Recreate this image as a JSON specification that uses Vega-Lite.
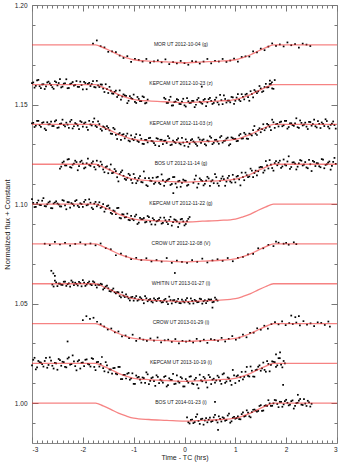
{
"$schema":"https://vega.github.io/schema/vega-lite/v6.json",
"width":305,"height":438,
"autosize":{"type":"none"},
"padding":{"left":32,"top":5,"right":4,"bottom":23},
"config":{"view":{"stroke":"#888","strokeWidth":1},"font":"Liberation Sans"},
"datasets":{
"pts":[
{"t":-1.8,"f":1.1806},{"t":-1.725,"f":1.1822},{"t":-1.65,"f":1.1793},{"t":-1.575,"f":1.1787},{"t":-1.5,"f":1.1765},{"t":-1.425,"f":1.1767},{"t":-1.35,"f":1.1763},{"t":-1.275,"f":1.1746},{"t":-1.2,"f":1.1734},{"t":-1.125,"f":1.1743},{"t":-1.05,"f":1.1714},{"t":-0.975,"f":1.1729},{"t":-0.9,"f":1.1724},{"t":-0.825,"f":1.1716},{"t":-0.75,"f":1.1729},{"t":-0.675,"f":1.171},{"t":-0.6,"f":1.1717},{"t":-0.525,"f":1.1722},{"t":-0.45,"f":1.1712},{"t":-0.375,"f":1.1727},{"t":-0.3,"f":1.1703},{"t":-0.225,"f":1.1713},{"t":-0.15,"f":1.1707},{"t":-0.075,"f":1.1719},{"t":0,"f":1.1708},{"t":0.075,"f":1.17},{"t":0.15,"f":1.1718},{"t":0.225,"f":1.1716},{"t":0.3,"f":1.1706},{"t":0.375,"f":1.1716},{"t":0.45,"f":1.1729},{"t":0.525,"f":1.1707},{"t":0.6,"f":1.172},{"t":0.675,"f":1.1716},{"t":0.75,"f":1.1729},{"t":0.825,"f":1.1714},{"t":0.9,"f":1.1721},{"t":0.975,"f":1.1731},{"t":1.05,"f":1.1716},{"t":1.125,"f":1.1739},{"t":1.2,"f":1.1742},{"t":1.275,"f":1.1741},{"t":1.35,"f":1.1767},{"t":1.425,"f":1.1762},{"t":1.5,"f":1.1781},{"t":1.575,"f":1.1773},{"t":1.65,"f":1.1791},{"t":1.725,"f":1.1807},{"t":1.8,"f":1.1795},{"t":1.875,"f":1.1802},{"t":1.95,"f":1.1792},{"t":2.025,"f":1.1812},{"t":2.1,"f":1.1798},{"t":2.175,"f":1.1804},{"t":2.25,"f":1.1786},{"t":2.325,"f":1.1806},{"t":2.4,"f":1.1801},{"t":2.475,"f":1.1794},
{"t":-3,"f":1.1608},{"t":-2.95,"f":1.1585},{"t":-2.9,"f":1.1621},{"t":-2.85,"f":1.1592},{"t":-2.8,"f":1.1601},{"t":-2.75,"f":1.1578},{"t":-2.7,"f":1.1611},{"t":-2.65,"f":1.1606},{"t":-2.6,"f":1.1587},{"t":-2.55,"f":1.1617},{"t":-2.5,"f":1.1596},{"t":-2.45,"f":1.1628},{"t":-2.4,"f":1.159},{"t":-2.35,"f":1.1607},{"t":-2.3,"f":1.1582},{"t":-2.25,"f":1.1603},{"t":-2.2,"f":1.1613},{"t":-2.15,"f":1.1599},{"t":-2.1,"f":1.1589},{"t":-2.05,"f":1.1615},{"t":-2,"f":1.1576},{"t":-1.95,"f":1.1608},{"t":-1.9,"f":1.1604},{"t":-1.85,"f":1.1593},{"t":-1.8,"f":1.1618},{"t":-1.75,"f":1.1586},{"t":-1.7,"f":1.1596},{"t":-1.65,"f":1.1601},{"t":-1.6,"f":1.158},{"t":-1.55,"f":1.1602},{"t":-1.5,"f":1.1558},{"t":-1.45,"f":1.157},{"t":-1.4,"f":1.1554},{"t":-1.35,"f":1.157},{"t":-1.3,"f":1.1547},{"t":-1.25,"f":1.1525},{"t":-1.2,"f":1.1551},{"t":-1.15,"f":1.1543},{"t":-1.1,"f":1.1519},{"t":-1.05,"f":1.1532},{"t":-1,"f":1.155},{"t":-0.95,"f":1.1508},{"t":-0.9,"f":1.1528},{"t":-0.85,"f":1.1517},{"t":-0.8,"f":1.1537},{"t":-0.75,"f":1.1509},{"t":-0.4,"f":1.1534},{"t":-0.35,"f":1.1508},{"t":-0.3,"f":1.1523},{"t":-0.25,"f":1.1495},{"t":-0.2,"f":1.1512},{"t":-0.15,"f":1.1527},{"t":-0.1,"f":1.1503},{"t":-0.05,"f":1.1515},{"t":0,"f":1.1496},{"t":0.05,"f":1.1532},{"t":0.1,"f":1.1508},{"t":0.15,"f":1.1519},{"t":0.2,"f":1.1487},{"t":0.25,"f":1.1524},{"t":0.3,"f":1.1514},{"t":0.35,"f":1.1504},{"t":0.4,"f":1.1528},{"t":0.45,"f":1.1511},{"t":0.5,"f":1.1533},{"t":0.55,"f":1.1503},{"t":0.6,"f":1.1523},{"t":0.65,"f":1.1511},{"t":0.7,"f":1.1549},{"t":0.75,"f":1.1502},{"t":0.8,"f":1.1528},{"t":0.85,"f":1.152},{"t":0.9,"f":1.1511},{"t":0.95,"f":1.1536},{"t":1,"f":1.1519},{"t":1.05,"f":1.1552},{"t":1.1,"f":1.1517},{"t":1.15,"f":1.1539},{"t":1.2,"f":1.155},{"t":1.25,"f":1.1537},{"t":1.3,"f":1.1567},{"t":1.35,"f":1.1536},{"t":1.4,"f":1.1566},{"t":1.45,"f":1.1566},{"t":1.5,"f":1.1581},{"t":1.55,"f":1.1567},{"t":1.6,"f":1.1604},{"t":1.65,"f":1.1587},{"t":1.7,"f":1.1604},{"t":1.75,"f":1.1579},{"t":1.72,"f":1.1612},{"t":1.68,"f":1.162},{"t":0.34,"f":1.159},
{"t":-2.975,"f":1.1611},{"t":-2.925,"f":1.1594},{"t":-2.875,"f":1.1624},{"t":-2.825,"f":1.1582},{"t":-2.775,"f":1.1602},{"t":-2.725,"f":1.1591},{"t":-2.675,"f":1.1615},{"t":-2.625,"f":1.1597},{"t":-2.575,"f":1.1579},{"t":-2.525,"f":1.1612},{"t":-2.475,"f":1.1608},{"t":-2.425,"f":1.1586},{"t":-2.375,"f":1.1605},{"t":-2.325,"f":1.1627},{"t":-2.275,"f":1.1583},{"t":-2.225,"f":1.1606},{"t":-2.175,"f":1.1595},{"t":-2.125,"f":1.1618},{"t":-2.075,"f":1.1589},{"t":-2.025,"f":1.1598},{"t":-1.975,"f":1.1614},{"t":-1.925,"f":1.1577},{"t":-1.875,"f":1.1609},{"t":-1.825,"f":1.1603},{"t":-1.775,"f":1.1588},{"t":-1.725,"f":1.1619},{"t":-1.675,"f":1.1588},{"t":-1.625,"f":1.16},{"t":-1.575,"f":1.1563},{"t":-1.525,"f":1.1578},{"t":-1.475,"f":1.1589},{"t":-1.425,"f":1.1556},{"t":-1.375,"f":1.1564},{"t":-1.325,"f":1.1538},{"t":-1.275,"f":1.1571},{"t":-1.225,"f":1.154},{"t":-1.175,"f":1.1546},{"t":-1.125,"f":1.1507},{"t":-1.075,"f":1.1542},{"t":-1.025,"f":1.1529},{"t":-0.975,"f":1.1513},{"t":-0.925,"f":1.1538},{"t":-0.875,"f":1.1517},{"t":-0.825,"f":1.1541},{"t":-0.775,"f":1.1506},{"t":-0.725,"f":1.1525},{"t":-0.375,"f":1.1528},{"t":-0.325,"f":1.1508},{"t":-0.275,"f":1.1539},{"t":-0.225,"f":1.1496},{"t":-0.175,"f":1.1515},{"t":-0.125,"f":1.1523},{"t":-0.075,"f":1.1502},{"t":-0.025,"f":1.1529},{"t":0.025,"f":1.149},{"t":0.075,"f":1.1516},{"t":0.125,"f":1.1509},{"t":0.175,"f":1.1518},{"t":0.225,"f":1.1499},{"t":0.275,"f":1.1533},{"t":0.325,"f":1.1509},{"t":0.375,"f":1.1523},{"t":0.425,"f":1.1492},{"t":0.475,"f":1.1527},{"t":0.525,"f":1.1518},{"t":0.575,"f":1.1508},{"t":0.625,"f":1.1535},{"t":0.675,"f":1.15},{"t":0.725,"f":1.1522},{"t":0.775,"f":1.1546},{"t":0.825,"f":1.151},{"t":0.875,"f":1.152},{"t":0.925,"f":1.1538},{"t":0.975,"f":1.1503},{"t":1.025,"f":1.1535},{"t":1.075,"f":1.1524},{"t":1.125,"f":1.1552},{"t":1.175,"f":1.1526},{"t":1.225,"f":1.1554},{"t":1.275,"f":1.1519},{"t":1.325,"f":1.1553},{"t":1.375,"f":1.1573},{"t":1.425,"f":1.1557},{"t":1.475,"f":1.1593},{"t":1.525,"f":1.1563},{"t":1.575,"f":1.1588},{"t":1.625,"f":1.1586},{"t":1.675,"f":1.1603},{"t":1.725,"f":1.1581},{"t":1.775,"f":1.1623},
{"t":-3,"f":1.1406},{"t":-2.95,"f":1.1387},{"t":-2.9,"f":1.1418},{"t":-2.85,"f":1.1396},{"t":-2.8,"f":1.1408},{"t":-2.75,"f":1.1379},{"t":-2.7,"f":1.1411},{"t":-2.65,"f":1.1401},{"t":-2.6,"f":1.1392},{"t":-2.55,"f":1.1415},{"t":-2.5,"f":1.1383},{"t":-2.45,"f":1.1403},{"t":-2.4,"f":1.1424},{"t":-2.35,"f":1.139},{"t":-2.3,"f":1.1399},{"t":-2.25,"f":1.1414},{"t":-2.2,"f":1.138},{"t":-2.15,"f":1.1407},{"t":-2.1,"f":1.1394},{"t":-2.05,"f":1.1417},{"t":-2,"f":1.1389},{"t":-1.95,"f":1.141},{"t":-1.9,"f":1.1373},{"t":-1.85,"f":1.14},{"t":-1.8,"f":1.1413},{"t":-1.75,"f":1.1393},{"t":-1.7,"f":1.1416},{"t":-1.65,"f":1.1377},{"t":-1.6,"f":1.139},{"t":-1.55,"f":1.1377},{"t":-1.5,"f":1.1383},{"t":-1.45,"f":1.1354},{"t":-1.4,"f":1.1383},{"t":-1.35,"f":1.1348},{"t":-1.3,"f":1.1351},{"t":-1.25,"f":1.1323},{"t":-1.2,"f":1.1351},{"t":-1.15,"f":1.1342},{"t":-1.1,"f":1.1319},{"t":-1.05,"f":1.1345},{"t":-1,"f":1.1321},{"t":-0.95,"f":1.1351},{"t":-0.9,"f":1.1312},{"t":-0.85,"f":1.1328},{"t":-0.8,"f":1.1302},{"t":-0.75,"f":1.1322},{"t":-0.7,"f":1.1331},{"t":-0.65,"f":1.1317},{"t":-0.6,"f":1.1306},{"t":-0.55,"f":1.1331},{"t":-0.5,"f":1.1291},{"t":-0.45,"f":1.1323},{"t":-0.4,"f":1.1318},{"t":-0.35,"f":1.1307},{"t":-0.3,"f":1.1331},{"t":-0.25,"f":1.1299},{"t":-0.2,"f":1.1312},{"t":-0.15,"f":1.1322},{"t":-0.1,"f":1.1305},{"t":-0.05,"f":1.1333},{"t":0,"f":1.1293},{"t":0.05,"f":1.1312},{"t":0.1,"f":1.1303},{"t":0.15,"f":1.1326},{"t":0.2,"f":1.1309},{"t":0.25,"f":1.1293},{"t":0.3,"f":1.1324},{"t":0.35,"f":1.1321},{"t":0.4,"f":1.1301},{"t":0.45,"f":1.1319},{"t":0.5,"f":1.134},{"t":0.55,"f":1.1301},{"t":0.6,"f":1.1323},{"t":0.65,"f":1.1314},{"t":0.7,"f":1.1335},{"t":0.75,"f":1.1309},{"t":0.8,"f":1.1319},{"t":0.85,"f":1.1334},{"t":0.9,"f":1.1301},{"t":0.95,"f":1.1331},{"t":1,"f":1.1328},{"t":1.05,"f":1.1317},{"t":1.1,"f":1.1352},{"t":1.15,"f":1.133},{"t":1.2,"f":1.135},{"t":1.25,"f":1.1327},{"t":1.3,"f":1.135},{"t":1.35,"f":1.1371},{"t":1.4,"f":1.1354},{"t":1.45,"f":1.1373},{"t":1.5,"f":1.1361},{"t":1.55,"f":1.1401},{"t":1.6,"f":1.1383},{"t":1.65,"f":1.1398},{"t":1.7,"f":1.1371},{"t":1.75,"f":1.1411},{"t":1.8,"f":1.1401},{"t":1.85,"f":1.139},{"t":1.9,"f":1.1414},{"t":1.95,"f":1.1396},{"t":2,"f":1.1418},{"t":2.05,"f":1.1387},{"t":2.1,"f":1.1406},{"t":2.15,"f":1.1393},{"t":2.2,"f":1.1431},{"t":2.25,"f":1.1383},{"t":2.3,"f":1.1408},{"t":2.35,"f":1.1399},{"t":2.4,"f":1.1389},{"t":2.45,"f":1.1413},{"t":2.5,"f":1.1394},{"t":2.55,"f":1.1424},{"t":2.6,"f":1.1385},{"t":2.65,"f":1.1403},{"t":2.7,"f":1.141},{"t":2.75,"f":1.1392},{"t":2.8,"f":1.1417},{"t":2.85,"f":1.138},{"t":2.9,"f":1.1404},{"t":2.95,"f":1.1397},
{"t":-2.975,"f":1.1408},{"t":-2.925,"f":1.1394},{"t":-2.875,"f":1.1418},{"t":-2.825,"f":1.1388},{"t":-2.775,"f":1.1411},{"t":-2.725,"f":1.1371},{"t":-2.675,"f":1.14},{"t":-2.625,"f":1.1414},{"t":-2.575,"f":1.1392},{"t":-2.525,"f":1.1421},{"t":-2.475,"f":1.1385},{"t":-2.425,"f":1.1405},{"t":-2.375,"f":1.1397},{"t":-2.325,"f":1.1409},{"t":-2.275,"f":1.1383},{"t":-2.225,"f":1.1423},{"t":-2.175,"f":1.1391},{"t":-2.125,"f":1.1402},{"t":-2.075,"f":1.1376},{"t":-2.025,"f":1.1412},{"t":-1.975,"f":1.1406},{"t":-1.925,"f":1.1386},{"t":-1.875,"f":1.1418},{"t":-1.825,"f":1.1395},{"t":-1.775,"f":1.143},{"t":-1.725,"f":1.1387},{"t":-1.675,"f":1.1402},{"t":-1.625,"f":1.1369},{"t":-1.575,"f":1.1386},{"t":-1.525,"f":1.1392},{"t":-1.475,"f":1.137},{"t":-1.425,"f":1.1353},{"t":-1.375,"f":1.1376},{"t":-1.325,"f":1.1327},{"t":-1.275,"f":1.1357},{"t":-1.225,"f":1.1348},{"t":-1.175,"f":1.133},{"t":-1.125,"f":1.1354},{"t":-1.075,"f":1.1315},{"t":-1.025,"f":1.1327},{"t":-0.975,"f":1.1335},{"t":-0.925,"f":1.1317},{"t":-0.875,"f":1.1346},{"t":-0.825,"f":1.1303},{"t":-0.775,"f":1.1322},{"t":-0.725,"f":1.131},{"t":-0.675,"f":1.1333},{"t":-0.625,"f":1.1315},{"t":-0.575,"f":1.1296},{"t":-0.525,"f":1.1328},{"t":-0.475,"f":1.1323},{"t":-0.425,"f":1.1301},{"t":-0.375,"f":1.1319},{"t":-0.325,"f":1.1341},{"t":-0.275,"f":1.1296},{"t":-0.225,"f":1.1319},{"t":-0.175,"f":1.1307},{"t":-0.125,"f":1.133},{"t":-0.075,"f":1.13},{"t":-0.025,"f":1.1309},{"t":0.025,"f":1.1325},{"t":0.075,"f":1.1288},{"t":0.125,"f":1.1321},{"t":0.175,"f":1.1315},{"t":0.225,"f":1.1301},{"t":0.275,"f":1.1334},{"t":0.325,"f":1.1308},{"t":0.375,"f":1.1325},{"t":0.425,"f":1.1295},{"t":0.475,"f":1.1315},{"t":0.525,"f":1.1333},{"t":0.575,"f":1.1308},{"t":0.625,"f":1.1323},{"t":0.675,"f":1.1303},{"t":0.725,"f":1.1342},{"t":0.775,"f":1.1317},{"t":0.825,"f":1.1329},{"t":0.875,"f":1.1295},{"t":0.925,"f":1.1335},{"t":0.975,"f":1.1326},{"t":1.025,"f":1.1316},{"t":1.075,"f":1.1345},{"t":1.125,"f":1.1329},{"t":1.175,"f":1.1358},{"t":1.225,"f":1.1329},{"t":1.275,"f":1.1354},{"t":1.325,"f":1.1345},{"t":1.375,"f":1.1392},{"t":1.425,"f":1.1347},{"t":1.475,"f":1.1381},{"t":1.525,"f":1.1376},{"t":1.575,"f":1.1371},{"t":1.625,"f":1.1403},{"t":1.675,"f":1.1388},{"t":1.725,"f":1.1424},{"t":1.775,"f":1.1383},{"t":1.825,"f":1.1403},{"t":1.875,"f":1.1411},{"t":1.925,"f":1.1391},{"t":1.975,"f":1.1418},{"t":2.025,"f":1.1379},{"t":2.075,"f":1.1405},{"t":2.125,"f":1.1397},{"t":2.175,"f":1.1406},{"t":2.225,"f":1.1386},{"t":2.275,"f":1.142},{"t":2.325,"f":1.1395},{"t":2.375,"f":1.1409},{"t":2.425,"f":1.1377},{"t":2.475,"f":1.1412},{"t":2.525,"f":1.1402},{"t":2.575,"f":1.1391},{"t":2.625,"f":1.1417},{"t":2.675,"f":1.1382},{"t":2.725,"f":1.1403},{"t":2.775,"f":1.1426},{"t":2.825,"f":1.1389},{"t":2.875,"f":1.1398},{"t":2.925,"f":1.1415},{"t":2.975,"f":1.1379},
{"t":-2.45,"f":1.1178},{"t":-2.4,"f":1.1208},{"t":-2.35,"f":1.1194},{"t":-2.3,"f":1.1224},{"t":-2.25,"f":1.1186},{"t":-2.2,"f":1.1198},{"t":-2.15,"f":1.1218},{"t":-2.1,"f":1.117},{"t":-2.05,"f":1.1212},{"t":-2,"f":1.1204},{"t":-1.95,"f":1.1184},{"t":-1.9,"f":1.1228},{"t":-1.85,"f":1.1192},{"t":-1.8,"f":1.1214},{"t":-1.75,"f":1.1174},{"t":-1.7,"f":1.1196},{"t":-1.65,"f":1.1213},{"t":-1.6,"f":1.1174},{"t":-1.55,"f":1.1186},{"t":-1.5,"f":1.1155},{"t":-1.45,"f":1.1199},{"t":-1.4,"f":1.1158},{"t":-1.35,"f":1.1166},{"t":-1.3,"f":1.1114},{"t":-1.25,"f":1.1161},{"t":-1.2,"f":1.1142},{"t":-1.15,"f":1.1122},{"t":-1.1,"f":1.1152},{"t":-1.05,"f":1.1122},{"t":-1,"f":1.1151},{"t":-0.95,"f":1.1105},{"t":-0.9,"f":1.113},{"t":-0.85,"f":1.1111},{"t":-0.8,"f":1.1164},{"t":-0.75,"f":1.1095},{"t":-0.7,"f":1.113},{"t":-0.65,"f":1.1116},{"t":-0.6,"f":1.1101},{"t":-0.55,"f":1.1134},{"t":-0.5,"f":1.1107},{"t":-0.45,"f":1.1149},{"t":-0.4,"f":1.1092},{"t":-0.35,"f":1.1118},{"t":-0.3,"f":1.1127},{"t":-0.25,"f":1.1101},{"t":-0.2,"f":1.1136},{"t":-0.15,"f":1.1084},{"t":-0.1,"f":1.1117},{"t":-0.05,"f":1.1107},{"t":0,"f":1.1118},{"t":0.05,"f":1.1093},{"t":0.2,"f":1.1124},{"t":0.25,"f":1.1083},{"t":0.3,"f":1.1129},{"t":0.35,"f":1.1116},{"t":0.4,"f":1.1102},{"t":0.45,"f":1.1137},{"t":0.5,"f":1.1091},{"t":0.55,"f":1.112},{"t":0.6,"f":1.1151},{"t":0.65,"f":1.1104},{"t":0.7,"f":1.1116},{"t":0.75,"f":1.1139},{"t":0.8,"f":1.1092},{"t":0.85,"f":1.1131},{"t":0.9,"f":1.1114},{"t":0.95,"f":1.1147},{"t":1,"f":1.1109},{"t":1.05,"f":1.1142},{"t":1.1,"f":1.1094},{"t":1.15,"f":1.1136},{"t":1.2,"f":1.1158},{"t":1.25,"f":1.1135},{"t":1.3,"f":1.1178},{"t":1.35,"f":1.1136},{"t":1.4,"f":1.1168},{"t":1.45,"f":1.1165},{"t":1.5,"f":1.1187},{"t":1.55,"f":1.1158},{"t":1.6,"f":1.1216},{"t":1.65,"f":1.1179},{"t":1.7,"f":1.1198},{"t":1.75,"f":1.1168},{"t":1.8,"f":1.1216},{"t":1.85,"f":1.1208},{"t":1.9,"f":1.1182},{"t":1.95,"f":1.1224},{"t":2,"f":1.1194},{"t":2.05,"f":1.124},{"t":2.1,"f":1.1186},{"t":2.15,"f":1.121},{"t":2.2,"f":1.1174},{"t":2.25,"f":1.1204},{"t":2.3,"f":1.1218},{"t":2.35,"f":1.1198},{"t":2.4,"f":1.1184},{"t":2.45,"f":1.1222},{"t":2.5,"f":1.1166},{"t":2.55,"f":1.1212},{"t":2.6,"f":1.1206},{"t":2.65,"f":1.119},{"t":2.7,"f":1.1226},{"t":2.75,"f":1.118},{"t":2.8,"f":1.12},{"t":2.85,"f":1.1214},{"t":2.9,"f":1.1192},{"t":2.95,"f":1.1232},
{"t":-2.425,"f":1.1188},{"t":-2.375,"f":1.1214},{"t":-2.325,"f":1.1194},{"t":-2.275,"f":1.1226},{"t":-2.225,"f":1.1183},{"t":-2.175,"f":1.1203},{"t":-2.125,"f":1.1211},{"t":-2.075,"f":1.1191},{"t":-2.025,"f":1.1218},{"t":-1.975,"f":1.1179},{"t":-1.925,"f":1.1205},{"t":-1.875,"f":1.1197},{"t":-1.825,"f":1.1206},{"t":-1.775,"f":1.1186},{"t":-1.725,"f":1.1218},{"t":-1.675,"f":1.1189},{"t":-1.625,"f":1.1198},{"t":-1.575,"f":1.116},{"t":-1.525,"f":1.119},{"t":-1.475,"f":1.1174},{"t":-1.425,"f":1.1156},{"t":-1.375,"f":1.1176},{"t":-1.325,"f":1.1135},{"t":-1.275,"f":1.1151},{"t":-1.225,"f":1.1169},{"t":-1.175,"f":1.1127},{"t":-1.125,"f":1.1132},{"t":-1.075,"f":1.1145},{"t":-1.025,"f":1.1106},{"t":-0.975,"f":1.1132},{"t":-0.925,"f":1.1117},{"t":-0.875,"f":1.114},{"t":-0.825,"f":1.1109},{"t":-0.775,"f":1.1131},{"t":-0.725,"f":1.109},{"t":-0.675,"f":1.1118},{"t":-0.625,"f":1.1132},{"t":-0.575,"f":1.1109},{"t":-0.525,"f":1.1137},{"t":-0.475,"f":1.11},{"t":-0.425,"f":1.112},{"t":-0.375,"f":1.1111},{"t":-0.325,"f":1.1123},{"t":-0.275,"f":1.1096},{"t":-0.225,"f":1.1136},{"t":-0.175,"f":1.1103},{"t":-0.125,"f":1.1114},{"t":-0.075,"f":1.1087},{"t":-0.025,"f":1.1123},{"t":0.025,"f":1.1117},{"t":0.075,"f":1.1097},{"t":0.175,"f":1.1107},{"t":0.225,"f":1.1143},{"t":0.275,"f":1.1102},{"t":0.325,"f":1.1122},{"t":0.375,"f":1.1094},{"t":0.425,"f":1.1118},{"t":0.475,"f":1.1129},{"t":0.525,"f":1.1114},{"t":0.575,"f":1.1105},{"t":0.625,"f":1.1135},{"t":0.675,"f":1.1092},{"t":0.725,"f":1.1128},{"t":0.775,"f":1.1125},{"t":0.825,"f":1.1113},{"t":0.875,"f":1.1142},{"t":0.925,"f":1.1108},{"t":0.975,"f":1.1124},{"t":1.025,"f":1.1138},{"t":1.075,"f":1.1124},{"t":1.125,"f":1.1158},{"t":1.175,"f":1.112},{"t":1.225,"f":1.1145},{"t":1.275,"f":1.1139},{"t":1.325,"f":1.1168},{"t":1.375,"f":1.1156},{"t":1.425,"f":1.1144},{"t":1.475,"f":1.1184},{"t":1.525,"f":1.1186},{"t":1.575,"f":1.1169},{"t":1.625,"f":1.1194},{"t":1.675,"f":1.1221},{"t":1.725,"f":1.1181},{"t":1.775,"f":1.1206},{"t":1.825,"f":1.1195},{"t":1.875,"f":1.1218},{"t":1.925,"f":1.1189},{"t":1.975,"f":1.1198},{"t":2.025,"f":1.1214},{"t":2.075,"f":1.1177},{"t":2.125,"f":1.1209},{"t":2.175,"f":1.1203},{"t":2.225,"f":1.1188},{"t":2.275,"f":1.1221},{"t":2.325,"f":1.1194},{"t":2.375,"f":1.1211},{"t":2.425,"f":1.118},{"t":2.475,"f":1.12},{"t":2.525,"f":1.1217},{"t":2.575,"f":1.1191},{"t":2.625,"f":1.1205},{"t":2.675,"f":1.1185},{"t":2.725,"f":1.1223},{"t":2.775,"f":1.1197},{"t":2.825,"f":1.1208},{"t":2.875,"f":1.1173},{"t":2.925,"f":1.1212},{"t":2.975,"f":1.1202},
{"t":-3,"f":1.1025},{"t":-2.95,"f":1.0985},{"t":-2.9,"f":1.1006},{"t":-2.85,"f":1.0996},{"t":-2.8,"f":1.1017},{"t":-2.75,"f":1.099},{"t":-2.7,"f":1.0999},{"t":-2.65,"f":1.1013},{"t":-2.6,"f":1.0979},{"t":-2.55,"f":1.1008},{"t":-2.5,"f":1.1003},{"t":-2.45,"f":1.0989},{"t":-2.4,"f":1.102},{"t":-2.35,"f":1.0994},{"t":-2.3,"f":1.101},{"t":-2.25,"f":1.0982},{"t":-2.2,"f":1.1},{"t":-2.15,"f":1.1015},{"t":-2.1,"f":1.0992},{"t":-2.05,"f":1.1004},{"t":-2,"f":1.0986},{"t":-1.95,"f":1.1021},{"t":-1.9,"f":1.0997},{"t":-1.85,"f":1.1007},{"t":-1.8,"f":1.0975},{"t":-1.75,"f":1.1011},{"t":-1.7,"f":1.0997},{"t":-1.65,"f":1.0981},{"t":-1.6,"f":1.1},{"t":-1.55,"f":1.0976},{"t":-1.5,"f":1.0993},{"t":-1.45,"f":1.0956},{"t":-1.4,"f":1.0968},{"t":-1.35,"f":1.0949},{"t":-1.3,"f":1.0981},{"t":-1.25,"f":1.0928},{"t":-1.2,"f":1.0948},{"t":-1.15,"f":1.0935},{"t":-1.1,"f":1.0921},{"t":-1.05,"f":1.0941},{"t":-1,"f":1.0919},{"t":-0.95,"f":1.0947},{"t":-0.9,"f":1.0907},{"t":-0.85,"f":1.0924},{"t":-0.8,"f":1.093},{"t":-0.75,"f":1.0911},{"t":-0.7,"f":1.0935},{"t":-0.65,"f":1.0898},{"t":-0.6,"f":1.0921},{"t":-0.55,"f":1.0913},{"t":-0.5,"f":1.0921},{"t":-0.45,"f":1.0902},{"t":-0.4,"f":1.0932},{"t":-0.35,"f":1.091},{"t":-0.3,"f":1.0921},{"t":-0.25,"f":1.0892},{"t":-0.2,"f":1.0923},{"t":-0.15,"f":1.0913},{"t":-0.1,"f":1.0903},{"t":-0.05,"f":1.0926},{"t":0,"f":1.0893},{"t":0.05,"f":1.0914},{"t":0.1,"f":1.0935},{"t":-0.22,"f":1.1055},
{"t":-2.975,"f":1.1006},{"t":-2.925,"f":1.0986},{"t":-2.875,"f":1.1018},{"t":-2.825,"f":1.0995},{"t":-2.775,"f":1.103},{"t":-2.725,"f":1.0989},{"t":-2.675,"f":1.1008},{"t":-2.625,"f":1.098},{"t":-2.575,"f":1.1003},{"t":-2.525,"f":1.1014},{"t":-2.475,"f":1.0998},{"t":-2.425,"f":1.0988},{"t":-2.375,"f":1.1017},{"t":-2.325,"f":1.0974},{"t":-2.275,"f":1.1009},{"t":-2.225,"f":1.1005},{"t":-2.175,"f":1.0992},{"t":-2.125,"f":1.102},{"t":-2.075,"f":1.0985},{"t":-2.025,"f":1.1},{"t":-1.975,"f":1.1011},{"t":-1.925,"f":1.0994},{"t":-1.875,"f":1.1024},{"t":-1.825,"f":1.0982},{"t":-1.775,"f":1.1002},{"t":-1.725,"f":1.0989},{"t":-1.675,"f":1.1009},{"t":-1.625,"f":1.0986},{"t":-1.575,"f":1.0962},{"t":-1.525,"f":1.099},{"t":-1.475,"f":1.098},{"t":-1.425,"f":1.0951},{"t":-1.375,"f":1.0964},{"t":-1.325,"f":1.098},{"t":-1.275,"f":1.0931},{"t":-1.225,"f":1.0949},{"t":-1.175,"f":1.0933},{"t":-1.125,"f":1.0952},{"t":-1.075,"f":1.0919},{"t":-1.025,"f":1.0925},{"t":-0.975,"f":1.0938},{"t":-0.925,"f":1.09},{"t":-0.875,"f":1.0931},{"t":-0.825,"f":1.0924},{"t":-0.775,"f":1.0908},{"t":-0.725,"f":1.094},{"t":-0.675,"f":1.0912},{"t":-0.625,"f":1.0929},{"t":-0.575,"f":1.0897},{"t":-0.525,"f":1.0916},{"t":-0.475,"f":1.0932},{"t":-0.425,"f":1.0906},{"t":-0.375,"f":1.0919},{"t":-0.325,"f":1.0899},{"t":-0.275,"f":1.0936},{"t":-0.225,"f":1.091},{"t":-0.175,"f":1.092},{"t":-0.125,"f":1.0885},{"t":-0.075,"f":1.0923},{"t":-0.025,"f":1.0913},{"t":0.025,"f":1.09},{"t":0.075,"f":1.0926},
{"t":-2.75,"f":1.0801},{"t":-2.65,"f":1.0794},{"t":-2.55,"f":1.081},{"t":-2.45,"f":1.0797},{"t":-2.35,"f":1.0805},{"t":-2.25,"f":1.0791},{"t":-2.15,"f":1.08},{"t":-2.05,"f":1.0808},{"t":-1.95,"f":1.0796},{"t":-1.85,"f":1.0802},{"t":-1.75,"f":1.0793},{"t":-1.65,"f":1.0802},{"t":-1.55,"f":1.0779},{"t":-1.45,"f":1.0773},{"t":-1.35,"f":1.0743},{"t":-1.25,"f":1.0751},{"t":-1.15,"f":1.0737},{"t":-1.05,"f":1.0723},{"t":-0.95,"f":1.073},{"t":-0.85,"f":1.0719},{"t":-0.75,"f":1.0728},{"t":-0.65,"f":1.0712},{"t":-0.55,"f":1.0719},{"t":-0.45,"f":1.0711},{"t":-0.35,"f":1.0729},{"t":-0.25,"f":1.0705},{"t":-0.15,"f":1.0716},{"t":-0.05,"f":1.071},{"t":0.05,"f":1.0705},{"t":0.15,"f":1.0718},{"t":0.25,"f":1.071},{"t":0.35,"f":1.0726},{"t":0.45,"f":1.0707},{"t":0.55,"f":1.0717},{"t":0.65,"f":1.0723},{"t":0.75,"f":1.0715},{"t":0.85,"f":1.0729},{"t":0.95,"f":1.0713},{"t":1.05,"f":1.073},{"t":1.15,"f":1.0735},{"t":1.25,"f":1.0748},{"t":1.35,"f":1.075},{"t":1.45,"f":1.0778},{"t":1.55,"f":1.0778},{"t":1.65,"f":1.0795},{"t":1.75,"f":1.0789},{"t":1.85,"f":1.0806},{"t":1.95,"f":1.0801},{"t":2.05,"f":1.0796},{"t":2.15,"f":1.0808},{"t":1.8,"f":1.0812},{"t":2,"f":1.0805},{"t":2.2,"f":1.0799},{"t":-0.19,"f":1.0654},
{"t":-2.62,"f":1.0665},{"t":-2.58,"f":1.0652},{"t":-2.55,"f":1.064},{"t":-2.6,"f":1.0596},{"t":-2.55,"f":1.0616},{"t":-2.5,"f":1.0588},{"t":-2.45,"f":1.0601},{"t":-2.4,"f":1.0594},{"t":-2.35,"f":1.061},{"t":-2.3,"f":1.0598},{"t":-2.25,"f":1.0586},{"t":-2.2,"f":1.0608},{"t":-2.15,"f":1.0605},{"t":-2.1,"f":1.0591},{"t":-2.05,"f":1.0603},{"t":-2,"f":1.0618},{"t":-1.95,"f":1.0589},{"t":-1.9,"f":1.0604},{"t":-1.85,"f":1.0597},{"t":-1.8,"f":1.0612},{"t":-1.75,"f":1.0593},{"t":-1.7,"f":1.0595},{"t":-1.65,"f":1.06},{"t":-1.6,"f":1.0571},{"t":-1.55,"f":1.0586},{"t":-1.5,"f":1.0577},{"t":-1.45,"f":1.0561},{"t":-1.4,"f":1.0576},{"t":-1.35,"f":1.0552},{"t":-1.3,"f":1.0557},{"t":-1.25,"f":1.0532},{"t":-1.2,"f":1.054},{"t":-1.15,"f":1.0547},{"t":-1.1,"f":1.0526},{"t":-1.05,"f":1.0531},{"t":-1,"f":1.0515},{"t":-0.95,"f":1.0538},{"t":-0.9,"f":1.052},{"t":-0.85,"f":1.0526},{"t":-0.8,"f":1.0502},{"t":-0.75,"f":1.0527},{"t":-0.7,"f":1.0519},{"t":-0.65,"f":1.0511},{"t":-0.6,"f":1.0527},{"t":-0.55,"f":1.0513},{"t":-0.5,"f":1.0528},{"t":-0.45,"f":1.0506},{"t":-0.4,"f":1.0518},{"t":-0.35,"f":1.0509},{"t":-0.3,"f":1.0535},{"t":-0.25,"f":1.0501},{"t":-0.2,"f":1.0518},{"t":-0.15,"f":1.0511},{"t":-0.1,"f":1.0503},{"t":-0.05,"f":1.052},{"t":0,"f":1.0506},{"t":0.05,"f":1.0528},{"t":0.1,"f":1.05},{"t":0.15,"f":1.0514},{"t":0.2,"f":1.0519},{"t":0.25,"f":1.0507},{"t":0.3,"f":1.0525},{"t":0.35,"f":1.05},{"t":0.4,"f":1.0517},{"t":0.45,"f":1.0513},{"t":0.5,"f":1.0519},{"t":0.55,"f":1.0507},{"t":0.6,"f":1.053},{"t":0.65,"f":1.0515},{"t":0.55,"f":1.048},
{"t":-2.575,"f":1.0586},{"t":-2.525,"f":1.0607},{"t":-2.475,"f":1.0601},{"t":-2.425,"f":1.0595},{"t":-2.375,"f":1.061},{"t":-2.325,"f":1.0589},{"t":-2.275,"f":1.0602},{"t":-2.225,"f":1.0616},{"t":-2.175,"f":1.0593},{"t":-2.125,"f":1.0599},{"t":-2.075,"f":1.0609},{"t":-2.025,"f":1.0587},{"t":-1.975,"f":1.0605},{"t":-1.925,"f":1.0596},{"t":-1.875,"f":1.0611},{"t":-1.825,"f":1.0593},{"t":-1.775,"f":1.0607},{"t":-1.725,"f":1.0581},{"t":-1.675,"f":1.0594},{"t":-1.625,"f":1.0597},{"t":-1.575,"f":1.0578},{"t":-1.525,"f":1.0591},{"t":-1.475,"f":1.0563},{"t":-1.425,"f":1.0568},{"t":-1.375,"f":1.0557},{"t":-1.325,"f":1.0558},{"t":-1.275,"f":1.0538},{"t":-1.225,"f":1.0557},{"t":-1.175,"f":1.0533},{"t":-1.125,"f":1.0535},{"t":-1.075,"f":1.0516},{"t":-1.025,"f":1.0534},{"t":-0.975,"f":1.0528},{"t":-0.925,"f":1.0515},{"t":-0.875,"f":1.0533},{"t":-0.825,"f":1.0518},{"t":-0.775,"f":1.0538},{"t":-0.725,"f":1.0512},{"t":-0.675,"f":1.0523},{"t":-0.625,"f":1.0506},{"t":-0.575,"f":1.0519},{"t":-0.525,"f":1.0524},{"t":-0.475,"f":1.0514},{"t":-0.425,"f":1.0508},{"t":-0.375,"f":1.0524},{"t":-0.325,"f":1.0498},{"t":-0.275,"f":1.0518},{"t":-0.225,"f":1.0516},{"t":-0.175,"f":1.0507},{"t":-0.125,"f":1.0524},{"t":-0.075,"f":1.0502},{"t":-0.025,"f":1.0511},{"t":0.025,"f":1.0518},{"t":0.075,"f":1.0507},{"t":0.125,"f":1.0526},{"t":0.175,"f":1.0501},{"t":0.225,"f":1.0514},{"t":0.275,"f":1.0508},{"t":0.325,"f":1.0523},{"t":0.375,"f":1.0512},{"t":0.425,"f":1.0502},{"t":0.475,"f":1.0522},{"t":0.525,"f":1.0521},{"t":0.575,"f":1.0509},{"t":0.625,"f":1.0521},
{"t":-2,"f":1.0417},{"t":-1.93,"f":1.0437},{"t":-1.86,"f":1.0423},{"t":-1.79,"f":1.0429},{"t":-1.72,"f":1.0409},{"t":-1.65,"f":1.0397},{"t":-1.58,"f":1.0385},{"t":-1.51,"f":1.037},{"t":-1.44,"f":1.0375},{"t":-1.37,"f":1.0356},{"t":-1.3,"f":1.036},{"t":-1.23,"f":1.0336},{"t":-1.16,"f":1.034},{"t":-1.09,"f":1.0327},{"t":-1.02,"f":1.0344},{"t":-0.95,"f":1.0313},{"t":-0.88,"f":1.0327},{"t":-0.81,"f":1.0319},{"t":-0.74,"f":1.0313},{"t":-0.67,"f":1.0325},{"t":-0.6,"f":1.0314},{"t":-0.53,"f":1.033},{"t":-0.46,"f":1.0306},{"t":-0.39,"f":1.0316},{"t":-0.32,"f":1.0319},{"t":-0.25,"f":1.0308},{"t":-0.18,"f":1.0322},{"t":-0.11,"f":1.03},{"t":-0.04,"f":1.0313},{"t":0.03,"f":1.0309},{"t":0.1,"f":1.0314},{"t":0.17,"f":1.0305},{"t":0.24,"f":1.0323},{"t":0.31,"f":1.0311},{"t":0.38,"f":1.0319},{"t":0.45,"f":1.0303},{"t":0.52,"f":1.0322},{"t":0.59,"f":1.0318},{"t":0.66,"f":1.0313},{"t":0.73,"f":1.0328},{"t":0.8,"f":1.031},{"t":0.87,"f":1.0323},{"t":0.94,"f":1.0337},{"t":1.01,"f":1.0319},{"t":1.08,"f":1.0329},{"t":1.15,"f":1.0344},{"t":1.22,"f":1.0331},{"t":1.29,"f":1.0353},{"t":1.36,"f":1.0354},{"t":1.43,"f":1.0376},{"t":1.5,"f":1.0369},{"t":1.57,"f":1.0389},{"t":1.64,"f":1.0375},{"t":1.71,"f":1.0397},{"t":1.78,"f":1.0407},{"t":1.85,"f":1.0396},{"t":1.92,"f":1.0411},{"t":1.99,"f":1.0392},{"t":2.06,"f":1.0402},{"t":2.13,"f":1.0398},{"t":2.2,"f":1.0405},{"t":2.27,"f":1.0391},{"t":2.34,"f":1.0412},{"t":2.41,"f":1.0395},{"t":2.48,"f":1.0401},{"t":2.55,"f":1.0387},{"t":2.62,"f":1.0406},{"t":2.69,"f":1.0403},{"t":2.76,"f":1.0393},{"t":2.83,"f":1.041},{"t":2.1,"f":1.044},{"t":2.18,"f":1.0432},{"t":2.25,"f":1.0437},{"t":2.86,"f":1.0385},
{"t":-3,"f":1.019},{"t":-2.95,"f":1.0228},{"t":-2.9,"f":1.018},{"t":-2.85,"f":1.0206},{"t":-2.8,"f":1.0196},{"t":-2.75,"f":1.0212},{"t":-2.7,"f":1.0178},{"t":-2.65,"f":1.023},{"t":-2.6,"f":1.0188},{"t":-2.55,"f":1.0202},{"t":-2.5,"f":1.0168},{"t":-2.45,"f":1.0216},{"t":-2.4,"f":1.0208},{"t":-2.35,"f":1.0182},{"t":-2.3,"f":1.0224},{"t":-2.25,"f":1.0194},{"t":-2.2,"f":1.024},{"t":-2.15,"f":1.0186},{"t":-2.1,"f":1.021},{"t":-2.05,"f":1.0174},{"t":-2,"f":1.0204},{"t":-1.95,"f":1.0218},{"t":-1.9,"f":1.0198},{"t":-1.85,"f":1.0184},{"t":-1.8,"f":1.0222},{"t":-1.75,"f":1.0166},{"t":-1.7,"f":1.0208},{"t":-1.65,"f":1.0197},{"t":-1.6,"f":1.0176},{"t":-1.55,"f":1.0206},{"t":-1.5,"f":1.0155},{"t":-1.45,"f":1.0169},{"t":-1.4,"f":1.0176},{"t":-1.35,"f":1.0148},{"t":-1.3,"f":1.0182},{"t":-1.25,"f":1.0121},{"t":-1.2,"f":1.0142},{"t":-1.15,"f":1.0124},{"t":-1.1,"f":1.0152},{"t":-1.05,"f":1.0124},{"t":-1,"f":1.0097},{"t":-0.95,"f":1.0139},{"t":-0.9,"f":1.0132},{"t":-0.85,"f":1.0103},{"t":-0.8,"f":1.0126},{"t":-0.75,"f":1.0155},{"t":-0.7,"f":1.0096},{"t":-0.65,"f":1.0126},{"t":-0.6,"f":1.0111},{"t":-0.55,"f":1.014},{"t":-0.5,"f":1.0101},{"t":-0.45,"f":1.0113},{"t":-0.4,"f":1.0132},{"t":-0.35,"f":1.0084},{"t":-0.3,"f":1.0125},{"t":-0.25,"f":1.0117},{"t":-0.2,"f":1.0096},{"t":-0.15,"f":1.014},{"t":-0.1,"f":1.0103},{"t":-0.05,"f":1.0125},{"t":0,"f":1.0084},{"t":0.05,"f":1.0111},{"t":0.1,"f":1.0133},{"t":0.15,"f":1.01},{"t":0.2,"f":1.0118},{"t":0.25,"f":1.0093},{"t":0.3,"f":1.0143},{"t":0.35,"f":1.011},{"t":0.4,"f":1.0124},{"t":0.45,"f":1.0079},{"t":0.5,"f":1.0131},{"t":0.55,"f":1.0118},{"t":0.6,"f":1.0103},{"t":0.65,"f":1.0138},{"t":0.7,"f":1.0112},{"t":0.75,"f":1.0145},{"t":0.8,"f":1.0102},{"t":0.85,"f":1.0129},{"t":0.9,"f":1.0112},{"t":0.95,"f":1.0167},{"t":1,"f":1.0101},{"t":1.05,"f":1.014},{"t":1.1,"f":1.013},{"t":1.15,"f":1.012},{"t":1.2,"f":1.0158},{"t":1.25,"f":1.0137},{"t":1.3,"f":1.0184},{"t":1.35,"f":1.0134},{"t":1.4,"f":1.0166},{"t":1.45,"f":1.0183},{"t":1.5,"f":1.0163},{"t":1.55,"f":1.0204},{"t":1.6,"f":1.0158},{"t":1.65,"f":1.0197},{"t":1.7,"f":1.0192},{"t":1.75,"f":1.0208},{"t":1.8,"f":1.0182},{"t":1.85,"f":1.0226},{"t":1.9,"f":1.0194},{"t":1.95,"f":1.0212},{"t":-2.3,"f":1.031},{"t":1.88,"f":1.0255},{"t":1.8,"f":1.0245},{"t":1.94,"f":1.0092},
{"t":-2.975,"f":1.0218},{"t":-2.925,"f":1.017},{"t":-2.875,"f":1.0212},{"t":-2.825,"f":1.0204},{"t":-2.775,"f":1.0184},{"t":-2.725,"f":1.0227},{"t":-2.675,"f":1.0192},{"t":-2.625,"f":1.0214},{"t":-2.575,"f":1.0174},{"t":-2.525,"f":1.02},{"t":-2.475,"f":1.0222},{"t":-2.425,"f":1.0188},{"t":-2.375,"f":1.0206},{"t":-2.325,"f":1.018},{"t":-2.275,"f":1.023},{"t":-2.225,"f":1.0196},{"t":-2.175,"f":1.021},{"t":-2.125,"f":1.0165},{"t":-2.075,"f":1.0216},{"t":-2.025,"f":1.0203},{"t":-1.975,"f":1.0186},{"t":-1.925,"f":1.022},{"t":-1.875,"f":1.0194},{"t":-1.825,"f":1.0226},{"t":-1.775,"f":1.0182},{"t":-1.725,"f":1.0206},{"t":-1.675,"f":1.0184},{"t":-1.625,"f":1.0232},{"t":-1.575,"f":1.016},{"t":-1.525,"f":1.019},{"t":-1.475,"f":1.0169},{"t":-1.425,"f":1.0149},{"t":-1.375,"f":1.0177},{"t":-1.325,"f":1.0145},{"t":-1.275,"f":1.0182},{"t":-1.225,"f":1.0121},{"t":-1.175,"f":1.0142},{"t":-1.125,"f":1.0148},{"t":-1.075,"f":1.0118},{"t":-1.025,"f":1.015},{"t":-0.975,"f":1.0097},{"t":-0.925,"f":1.0129},{"t":-0.875,"f":1.0118},{"t":-0.825,"f":1.0129},{"t":-0.775,"f":1.0102},{"t":-0.725,"f":1.0145},{"t":-0.675,"f":1.0112},{"t":-0.625,"f":1.013},{"t":-0.575,"f":1.0087},{"t":-0.525,"f":1.0132},{"t":-0.475,"f":1.0118},{"t":-0.425,"f":1.0103},{"t":-0.375,"f":1.0136},{"t":-0.325,"f":1.0091},{"t":-0.275,"f":1.0117},{"t":-0.225,"f":1.0147},{"t":-0.175,"f":1.0098},{"t":-0.125,"f":1.0109},{"t":-0.075,"f":1.0131},{"t":-0.025,"f":1.0084},{"t":0.025,"f":1.0121},{"t":0.075,"f":1.0103},{"t":0.125,"f":1.0135},{"t":0.175,"f":1.0096},{"t":0.225,"f":1.0127},{"t":0.275,"f":1.0075},{"t":0.325,"f":1.0114},{"t":0.375,"f":1.0132},{"t":0.425,"f":1.0105},{"t":0.475,"f":1.0142},{"t":0.525,"f":1.0096},{"t":0.575,"f":1.0123},{"t":0.625,"f":1.0114},{"t":0.675,"f":1.013},{"t":0.725,"f":1.0097},{"t":0.775,"f":1.015},{"t":0.825,"f":1.0109},{"t":0.875,"f":1.0125},{"t":0.925,"f":1.0092},{"t":0.975,"f":1.014},{"t":1.025,"f":1.0135},{"t":1.075,"f":1.0112},{"t":1.125,"f":1.0157},{"t":1.175,"f":1.0132},{"t":1.225,"f":1.0182},{"t":1.275,"f":1.0134},{"t":1.325,"f":1.0163},{"t":1.375,"f":1.0133},{"t":1.425,"f":1.0169},{"t":1.475,"f":1.019},{"t":1.525,"f":1.0175},{"t":1.575,"f":1.0167},{"t":1.625,"f":1.0211},{"t":1.675,"f":1.016},{"t":1.725,"f":1.021},{"t":1.775,"f":1.0206},{"t":1.825,"f":1.019},{"t":1.875,"f":1.0226},{"t":1.925,"f":1.018},{"t":1.975,"f":1.02},
{"t":0.05,"f":0.9929},{"t":0.1,"f":0.9898},{"t":0.15,"f":0.9918},{"t":0.2,"f":0.9905},{"t":0.25,"f":0.9944},{"t":0.3,"f":0.9896},{"t":0.35,"f":0.9922},{"t":0.4,"f":0.9913},{"t":0.45,"f":0.9904},{"t":0.5,"f":0.9928},{"t":0.55,"f":0.991},{"t":0.6,"f":0.9941},{"t":0.65,"f":0.9903},{"t":0.7,"f":0.9921},{"t":0.75,"f":0.9929},{"t":0.8,"f":0.9912},{"t":0.85,"f":0.9938},{"t":0.9,"f":0.9902},{"t":0.95,"f":0.9927},{"t":1,"f":0.9922},{"t":1.05,"f":0.9934},{"t":1.1,"f":0.9919},{"t":1.15,"f":0.9954},{"t":1.2,"f":0.9936},{"t":1.25,"f":0.9953},{"t":1.3,"f":0.9929},{"t":1.35,"f":0.9967},{"t":1.4,"f":0.9963},{"t":1.45,"f":0.9961},{"t":1.5,"f":0.999},{"t":1.55,"f":0.9963},{"t":1.6,"f":0.9989},{"t":1.65,"f":1.0015},{"t":1.7,"f":0.9986},{"t":1.75,"f":0.9999},{"t":1.8,"f":1.0014},{"t":1.85,"f":0.998},{"t":1.9,"f":1.0007},{"t":1.95,"f":0.9994},{"t":2,"f":1.0017},{"t":2.05,"f":0.9989},{"t":2.1,"f":1.001},{"t":2.15,"f":0.9973},{"t":2.2,"f":1},{"t":2.25,"f":1.0013},{"t":2.3,"f":0.9993},{"t":2.35,"f":1.002},{"t":2.4,"f":0.9986},{"t":2.45,"f":1.0004},{"t":2.5,"f":0.9997},{"t":0.66,"f":0.9866},{"t":0.6,"f":1.0007},{"t":2.23,"f":1.0042},
{"t":0.075,"f":0.9904},{"t":0.125,"f":0.9916},{"t":0.175,"f":0.99},{"t":0.225,"f":0.9931},{"t":0.275,"f":0.9911},{"t":0.325,"f":0.992},{"t":0.375,"f":0.9892},{"t":0.425,"f":0.9925},{"t":0.475,"f":0.9917},{"t":0.525,"f":0.9907},{"t":0.575,"f":0.9929},{"t":0.625,"f":0.9914},{"t":0.675,"f":0.9934},{"t":0.725,"f":0.9908},{"t":0.775,"f":0.9925},{"t":0.825,"f":0.9915},{"t":0.875,"f":0.9948},{"t":0.925,"f":0.9909},{"t":0.975,"f":0.9931},{"t":1.025,"f":0.9925},{"t":1.075,"f":0.992},{"t":1.125,"f":0.9945},{"t":1.175,"f":0.9933},{"t":1.225,"f":0.9964},{"t":1.275,"f":0.9934},{"t":1.325,"f":0.9955},{"t":1.375,"f":0.9968},{"t":1.425,"f":0.9958},{"t":1.475,"f":0.9986},{"t":1.525,"f":0.9961},{"t":1.575,"f":0.9987},{"t":1.625,"f":0.9987},{"t":1.675,"f":0.9999},{"t":1.725,"f":0.9987},{"t":1.775,"f":1.0016},{"t":1.825,"f":0.9996},{"t":1.875,"f":1.0007},{"t":1.925,"f":0.9982},{"t":1.975,"f":1.001},{"t":2.025,"f":1.0002},{"t":2.075,"f":0.9993},{"t":2.125,"f":1.0014},{"t":2.175,"f":0.9986},{"t":2.225,"f":1.0002},{"t":2.275,"f":1.0021},{"t":2.325,"f":0.9991},{"t":2.375,"f":0.9998},{"t":2.425,"f":1.0012},{"t":2.475,"f":0.9983}
],
"model":[
{"c":1,"t":-3,"f":1.18},{"c":1,"t":-1.75,"f":1.18},{"c":1,"t":-1.6,"f":1.1786},{"c":1,"t":-1.45,"f":1.1769},{"c":1,"t":-1.3,"f":1.175},{"c":1,"t":-1.15,"f":1.1736},{"c":1,"t":-1,"f":1.1725},{"c":1,"t":-0.7,"f":1.1718},{"c":1,"t":-0.35,"f":1.1714},{"c":1,"t":0,"f":1.171},{"c":1,"t":0.35,"f":1.1714},{"c":1,"t":0.7,"f":1.1718},{"c":1,"t":1,"f":1.1725},{"c":1,"t":1.15,"f":1.1736},{"c":1,"t":1.3,"f":1.175},{"c":1,"t":1.45,"f":1.1769},{"c":1,"t":1.6,"f":1.1786},{"c":1,"t":1.75,"f":1.18},{"c":1,"t":3,"f":1.18},
{"c":2,"t":-3,"f":1.16},{"c":2,"t":-1.75,"f":1.16},{"c":2,"t":-1.6,"f":1.1586},{"c":2,"t":-1.45,"f":1.1569},{"c":2,"t":-1.3,"f":1.155},{"c":2,"t":-1.15,"f":1.1536},{"c":2,"t":-1,"f":1.1525},{"c":2,"t":-0.7,"f":1.1518},{"c":2,"t":-0.35,"f":1.1514},{"c":2,"t":0,"f":1.151},{"c":2,"t":0.35,"f":1.1514},{"c":2,"t":0.7,"f":1.1518},{"c":2,"t":1,"f":1.1525},{"c":2,"t":1.15,"f":1.1536},{"c":2,"t":1.3,"f":1.155},{"c":2,"t":1.45,"f":1.1569},{"c":2,"t":1.6,"f":1.1586},{"c":2,"t":1.75,"f":1.16},{"c":2,"t":3,"f":1.16},
{"c":3,"t":-3,"f":1.14},{"c":3,"t":-1.75,"f":1.14},{"c":3,"t":-1.6,"f":1.1386},{"c":3,"t":-1.45,"f":1.1369},{"c":3,"t":-1.3,"f":1.135},{"c":3,"t":-1.15,"f":1.1336},{"c":3,"t":-1,"f":1.1325},{"c":3,"t":-0.7,"f":1.1318},{"c":3,"t":-0.35,"f":1.1314},{"c":3,"t":0,"f":1.131},{"c":3,"t":0.35,"f":1.1314},{"c":3,"t":0.7,"f":1.1318},{"c":3,"t":1,"f":1.1325},{"c":3,"t":1.15,"f":1.1336},{"c":3,"t":1.3,"f":1.135},{"c":3,"t":1.45,"f":1.1369},{"c":3,"t":1.6,"f":1.1386},{"c":3,"t":1.75,"f":1.14},{"c":3,"t":3,"f":1.14},
{"c":4,"t":-3,"f":1.12},{"c":4,"t":-1.75,"f":1.12},{"c":4,"t":-1.6,"f":1.1186},{"c":4,"t":-1.45,"f":1.1169},{"c":4,"t":-1.3,"f":1.115},{"c":4,"t":-1.15,"f":1.1136},{"c":4,"t":-1,"f":1.1125},{"c":4,"t":-0.7,"f":1.1118},{"c":4,"t":-0.35,"f":1.1114},{"c":4,"t":0,"f":1.111},{"c":4,"t":0.35,"f":1.1114},{"c":4,"t":0.7,"f":1.1118},{"c":4,"t":1,"f":1.1125},{"c":4,"t":1.15,"f":1.1136},{"c":4,"t":1.3,"f":1.115},{"c":4,"t":1.45,"f":1.1169},{"c":4,"t":1.6,"f":1.1186},{"c":4,"t":1.75,"f":1.12},{"c":4,"t":3,"f":1.12},
{"c":5,"t":-3,"f":1.1},{"c":5,"t":-1.75,"f":1.1},{"c":5,"t":-1.6,"f":1.0986},{"c":5,"t":-1.45,"f":1.0969},{"c":5,"t":-1.3,"f":1.095},{"c":5,"t":-1.15,"f":1.0936},{"c":5,"t":-1,"f":1.0925},{"c":5,"t":-0.7,"f":1.0918},{"c":5,"t":-0.35,"f":1.0914},{"c":5,"t":0,"f":1.091},{"c":5,"t":0.35,"f":1.0914},{"c":5,"t":0.7,"f":1.0918},{"c":5,"t":1,"f":1.0925},{"c":5,"t":1.15,"f":1.0936},{"c":5,"t":1.3,"f":1.095},{"c":5,"t":1.45,"f":1.0969},{"c":5,"t":1.6,"f":1.0986},{"c":5,"t":1.75,"f":1.1},{"c":5,"t":3,"f":1.1},
{"c":6,"t":-3,"f":1.08},{"c":6,"t":-1.75,"f":1.08},{"c":6,"t":-1.6,"f":1.0786},{"c":6,"t":-1.45,"f":1.0769},{"c":6,"t":-1.3,"f":1.075},{"c":6,"t":-1.15,"f":1.0736},{"c":6,"t":-1,"f":1.0725},{"c":6,"t":-0.7,"f":1.0718},{"c":6,"t":-0.35,"f":1.0714},{"c":6,"t":0,"f":1.071},{"c":6,"t":0.35,"f":1.0714},{"c":6,"t":0.7,"f":1.0718},{"c":6,"t":1,"f":1.0725},{"c":6,"t":1.15,"f":1.0736},{"c":6,"t":1.3,"f":1.075},{"c":6,"t":1.45,"f":1.0769},{"c":6,"t":1.6,"f":1.0786},{"c":6,"t":1.75,"f":1.08},{"c":6,"t":3,"f":1.08},
{"c":7,"t":-3,"f":1.06},{"c":7,"t":-1.75,"f":1.06},{"c":7,"t":-1.6,"f":1.0586},{"c":7,"t":-1.45,"f":1.0569},{"c":7,"t":-1.3,"f":1.055},{"c":7,"t":-1.15,"f":1.0536},{"c":7,"t":-1,"f":1.0525},{"c":7,"t":-0.7,"f":1.0518},{"c":7,"t":-0.35,"f":1.0514},{"c":7,"t":0,"f":1.051},{"c":7,"t":0.35,"f":1.0514},{"c":7,"t":0.7,"f":1.0518},{"c":7,"t":1,"f":1.0525},{"c":7,"t":1.15,"f":1.0536},{"c":7,"t":1.3,"f":1.055},{"c":7,"t":1.45,"f":1.0569},{"c":7,"t":1.6,"f":1.0586},{"c":7,"t":1.75,"f":1.06},{"c":7,"t":3,"f":1.06},
{"c":8,"t":-3,"f":1.04},{"c":8,"t":-1.75,"f":1.04},{"c":8,"t":-1.6,"f":1.0386},{"c":8,"t":-1.45,"f":1.0369},{"c":8,"t":-1.3,"f":1.035},{"c":8,"t":-1.15,"f":1.0336},{"c":8,"t":-1,"f":1.0325},{"c":8,"t":-0.7,"f":1.0318},{"c":8,"t":-0.35,"f":1.0314},{"c":8,"t":0,"f":1.031},{"c":8,"t":0.35,"f":1.0314},{"c":8,"t":0.7,"f":1.0318},{"c":8,"t":1,"f":1.0325},{"c":8,"t":1.15,"f":1.0336},{"c":8,"t":1.3,"f":1.035},{"c":8,"t":1.45,"f":1.0369},{"c":8,"t":1.6,"f":1.0386},{"c":8,"t":1.75,"f":1.04},{"c":8,"t":3,"f":1.04},
{"c":9,"t":-3,"f":1.02},{"c":9,"t":-1.75,"f":1.02},{"c":9,"t":-1.6,"f":1.0186},{"c":9,"t":-1.45,"f":1.0169},{"c":9,"t":-1.3,"f":1.015},{"c":9,"t":-1.15,"f":1.0136},{"c":9,"t":-1,"f":1.0125},{"c":9,"t":-0.7,"f":1.0118},{"c":9,"t":-0.35,"f":1.0114},{"c":9,"t":0,"f":1.011},{"c":9,"t":0.35,"f":1.0114},{"c":9,"t":0.7,"f":1.0118},{"c":9,"t":1,"f":1.0125},{"c":9,"t":1.15,"f":1.0136},{"c":9,"t":1.3,"f":1.015},{"c":9,"t":1.45,"f":1.0169},{"c":9,"t":1.6,"f":1.0186},{"c":9,"t":1.75,"f":1.02},{"c":9,"t":3,"f":1.02},
{"c":10,"t":-3,"f":1},{"c":10,"t":-1.75,"f":1},{"c":10,"t":-1.6,"f":0.9986},{"c":10,"t":-1.45,"f":0.9969},{"c":10,"t":-1.3,"f":0.995},{"c":10,"t":-1.15,"f":0.9936},{"c":10,"t":-1,"f":0.9925},{"c":10,"t":-0.7,"f":0.9918},{"c":10,"t":-0.35,"f":0.9914},{"c":10,"t":0,"f":0.991},{"c":10,"t":0.35,"f":0.9914},{"c":10,"t":0.7,"f":0.9918},{"c":10,"t":1,"f":0.9925},{"c":10,"t":1.15,"f":0.9936},{"c":10,"t":1.3,"f":0.995},{"c":10,"t":1.45,"f":0.9969},{"c":10,"t":1.6,"f":0.9986},{"c":10,"t":1.75,"f":1},{"c":10,"t":3,"f":1}
],
"labels":[
{"t":-0.07,"f":1.1806,"label":"MOR UT 2012-10-04 (g)"},
{"t":-0.07,"f":1.1606,"label":"KEPCAM UT 2012-10-23 (z)"},
{"t":-0.07,"f":1.1406,"label":"KEPCAM UT 2012-11-03 (z)"},
{"t":-0.07,"f":1.1206,"label":"BOS UT 2012-11-14 (g)"},
{"t":-0.07,"f":1.1006,"label":"KEPCAM UT 2012-11-22 (g)"},
{"t":-0.07,"f":1.0806,"label":"CROW UT 2012-12-08 (V)"},
{"t":-0.07,"f":1.0606,"label":"WHITIN UT 2013-01-27 (i)"},
{"t":-0.07,"f":1.0406,"label":"CROW UT 2013-01-29 (i)"},
{"t":-0.07,"f":1.0206,"label":"KEPCAM UT 2013-10-19 (i)"},
{"t":-0.07,"f":1.0006,"label":"BOS UT 2014-01-23 (i)"}
]
},
"layer":[
{"data":{"name":"pts"},
 "mark":{"type":"point","shape":"square","filled":true,"size":3,"color":"#000","opacity":1},
 "encoding":{
  "x":{"field":"t","type":"quantitative","scale":{"domain":[-3,3],"nice":false,"zero":false},
   "axis":{"orient":"bottom","values":[-3,-2,-1,0,1,2,3],"labelExpr":"'' + datum.value","tickSize":-6,"tickColor":"#777","domain":false,"grid":false,"labelFontSize":6.5,"labelColor":"#222","labelPadding":9,"labelFont":"Liberation Sans","title":"Time - TC (hrs)","titleFont":"Liberation Sans","titleFontSize":7,"titleFontWeight":"normal","titleColor":"#222","titlePadding":1}},
  "y":{"field":"f","type":"quantitative","scale":{"domain":[0.98,1.2],"nice":false,"zero":false},
   "axis":{"orient":"left","values":[1,1.05,1.1,1.15,1.2],"format":".2f","tickSize":-6,"tickColor":"#777","domain":false,"grid":false,"labelFontSize":6.5,"labelColor":"#222","labelPadding":11,"labelFont":"Liberation Sans","title":"Normalized flux + Constant","titleFont":"Liberation Sans","titleFontSize":7.5,"titleFontWeight":"normal","titleColor":"#222","titlePadding":3}}
 }},
{"data":{"name":"model"},
 "mark":{"type":"line","color":"#f03030","strokeWidth":1.3,"opacity":0.6,"interpolate":"monotone"},
 "encoding":{
  "x":{"field":"t","type":"quantitative","scale":{"domain":[-3,3],"nice":false,"zero":false},
   "axis":{"orient":"bottom","values":[-2.9,-2.8,-2.7,-2.6,-2.5,-2.4,-2.3,-2.2,-2.1,-1.9,-1.8,-1.7,-1.6,-1.5,-1.4,-1.3,-1.2,-1.1,-0.9,-0.8,-0.7,-0.6,-0.5,-0.4,-0.3,-0.2,-0.1,0.1,0.2,0.3,0.4,0.5,0.6,0.7,0.8,0.9,1.1,1.2,1.3,1.4,1.5,1.6,1.7,1.8,1.9,2.1,2.2,2.3,2.4,2.5,2.6,2.7,2.8,2.9],"labels":false,"tickSize":-3,"tickColor":"#777","domain":false,"grid":false,"title":null}},
  "y":{"field":"f","type":"quantitative","scale":{"domain":[0.98,1.2],"nice":false,"zero":false},
   "axis":{"orient":"left","values":[0.99,1.01,1.03,1.05,1.07,1.09,1.11,1.13,1.15,1.17,1.19],"labels":false,"tickSize":-3,"tickColor":"#777","domain":false,"grid":false,"title":null}},
  "detail":{"field":"c","type":"nominal"}
 }},
{"data":{"name":"labels"},
 "mark":{"type":"text","fontSize":5,"font":"Liberation Sans","color":"#222","baseline":"middle","align":"center"},
 "encoding":{
  "x":{"field":"t","type":"quantitative","scale":{"domain":[-3,3],"nice":false,"zero":false},
   "axis":{"orient":"top","values":[-3,-2,-1,0,1,2,3],"labels":false,"tickSize":-6,"tickColor":"#777","domain":false,"grid":false,"title":null}},
  "y":{"field":"f","type":"quantitative","scale":{"domain":[0.98,1.2],"nice":false,"zero":false},
   "axis":{"orient":"right","values":[1,1.05,1.1,1.15,1.2],"labels":false,"tickSize":-6,"tickColor":"#777","domain":false,"grid":false,"title":null}},
  "text":{"field":"label","type":"nominal"}
 }},
{"data":{"name":"labels"},
 "mark":{"type":"text","opacity":0},
 "encoding":{
  "x":{"field":"t","type":"quantitative","scale":{"domain":[-3,3],"nice":false,"zero":false},
   "axis":{"orient":"top","values":[-2.9,-2.8,-2.7,-2.6,-2.5,-2.4,-2.3,-2.2,-2.1,-1.9,-1.8,-1.7,-1.6,-1.5,-1.4,-1.3,-1.2,-1.1,-0.9,-0.8,-0.7,-0.6,-0.5,-0.4,-0.3,-0.2,-0.1,0.1,0.2,0.3,0.4,0.5,0.6,0.7,0.8,0.9,1.1,1.2,1.3,1.4,1.5,1.6,1.7,1.8,1.9,2.1,2.2,2.3,2.4,2.5,2.6,2.7,2.8,2.9],"labels":false,"tickSize":-3,"tickColor":"#777","domain":false,"grid":false,"title":null}},
  "y":{"field":"f","type":"quantitative","scale":{"domain":[0.98,1.2],"nice":false,"zero":false},
   "axis":{"orient":"right","values":[0.99,1.01,1.03,1.05,1.07,1.09,1.11,1.13,1.15,1.17,1.19],"labels":false,"tickSize":-3,"tickColor":"#777","domain":false,"grid":false,"title":null}},
  "text":{"field":"label","type":"nominal"}
 }}
],
"resolve":{"axis":{"x":"independent","y":"independent"}}
}
